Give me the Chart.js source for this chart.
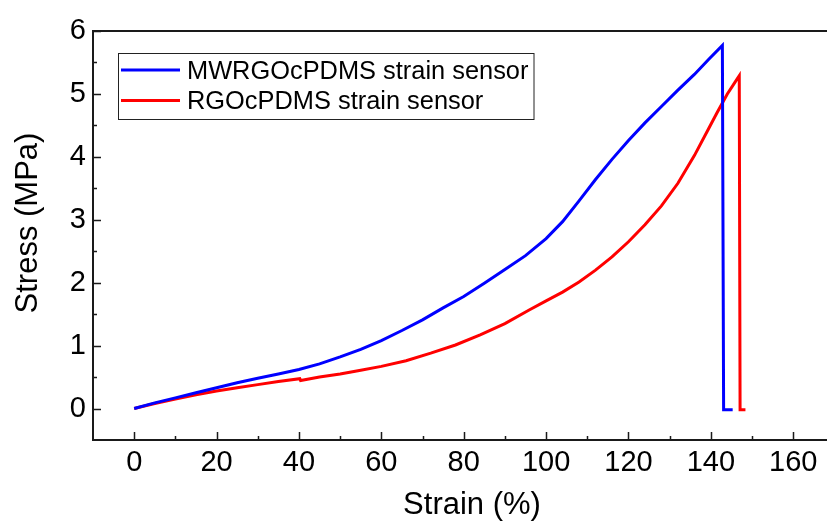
<!DOCTYPE html>
<html>
<head>
<meta charset="utf-8">
<title>Stress vs Strain</title>
<script src="https://cdn.jsdelivr.net/npm/chart.js@4/dist/chart.umd.min.js"></script>
<style>
  body { margin: 0; background: #fff; }
  #stress-strain-chart { display: block; }
</style>
</head>
<body>
<canvas id="stress-strain-chart" width="827" height="525"></canvas>
<script>
var seriesLabels = ['MWRGOcPDMS strain sensor', 'RGOcPDMS strain sensor'];

var strainMW = [0, 5, 10, 15, 20, 25, 30, 35, 40, 45, 50, 55, 60, 65, 70, 75, 80, 85, 90, 95, 100, 104, 108, 112, 116, 120, 124, 128, 132, 136, 139.5, 142.8, 143.1, 145.3];
var stressMW = [0, 0.09, 0.17, 0.25, 0.33, 0.41, 0.48, 0.55, 0.62, 0.71, 0.82, 0.94, 1.08, 1.24, 1.41, 1.6, 1.78, 1.99, 2.21, 2.43, 2.7, 2.97, 3.3, 3.64, 3.96, 4.26, 4.54, 4.8, 5.06, 5.31, 5.55, 5.77, -0.02, -0.02];

var strainRGO = [0, 5, 10, 15, 20, 25, 30, 35, 40.2, 40.4, 45, 50, 55, 60, 66, 72, 78, 84, 90, 96, 100, 104, 108, 112, 116, 120, 124, 128, 132, 136, 139, 141.5, 144, 146, 146.9, 147.1, 148.4];
var stressRGO = [0, 0.08, 0.15, 0.22, 0.28, 0.33, 0.38, 0.43, 0.475, 0.445, 0.5, 0.55, 0.61, 0.67, 0.76, 0.88, 1.01, 1.17, 1.35, 1.57, 1.71, 1.85, 2.01, 2.2, 2.41, 2.65, 2.92, 3.22, 3.58, 4.02, 4.39, 4.7, 5.0, 5.2, 5.29, -0.02, -0.02];

var xTickValues = [0, 20, 40, 60, 80, 100, 120, 140, 160];
var xMinorValues = [10, 30, 50, 70, 90, 110, 130, 150];
var yTickValues = [0, 1, 2, 3, 4, 5, 6];
var yMinorValues = [0.5, 1.5, 2.5, 3.5, 4.5, 5.5];

var FONT = '"Liberation Sans", Arial, sans-serif';
var AXIS_COLOR = '#1a1a1a';

function toPoints(xs, ys) {
  return xs.map(function (x, i) { return { x: x, y: ys[i] }; });
}

// frame top line, inward tick marks, axis titles and the boxed legend
var decorPlugin = {
  id: 'decor',
  afterDraw: function (chart) {
    var ctx = chart.ctx;
    var area = chart.chartArea;
    var xs = chart.scales.x;
    var ys = chart.scales.y;

    ctx.save();
    ctx.strokeStyle = AXIS_COLOR;
    ctx.lineWidth = 2;
    ctx.beginPath();
    ctx.moveTo(area.left, area.top);
    ctx.lineTo(area.right, area.top);
    ctx.stroke();

    ctx.lineWidth = 1.5;
    ctx.beginPath();
    xTickValues.forEach(function (v) {
      var px = Math.round(xs.getPixelForValue(v)) + 0.5;
      ctx.moveTo(px, area.bottom); ctx.lineTo(px, area.bottom - 8);
    });
    xMinorValues.forEach(function (v) {
      var px = Math.round(xs.getPixelForValue(v)) + 0.5;
      ctx.moveTo(px, area.bottom); ctx.lineTo(px, area.bottom - 4);
    });
    yTickValues.forEach(function (v) {
      var py = Math.round(ys.getPixelForValue(v)) + 0.5;
      ctx.moveTo(area.left, py); ctx.lineTo(area.left + 8, py);
    });
    yMinorValues.forEach(function (v) {
      var py = Math.round(ys.getPixelForValue(v)) + 0.5;
      ctx.moveTo(area.left, py); ctx.lineTo(area.left + 4, py);
    });
    ctx.stroke();

    // axis titles
    ctx.fillStyle = '#000';
    ctx.font = '31px ' + FONT;
    ctx.textAlign = 'center';
    ctx.textBaseline = 'alphabetic';
    ctx.fillText('Strain (%)', 472, 514);
    ctx.save();
    ctx.translate(37, 223);
    ctx.rotate(-Math.PI / 2);
    ctx.fillText('Stress (MPa)', 0, 0);
    ctx.restore();

    // legend
    ctx.lineWidth = 1;
    ctx.strokeStyle = '#222';
    ctx.strokeRect(118.5, 53.5, 415.5, 66);
    ctx.font = '25.4px ' + FONT;
    ctx.textAlign = 'left';
    var rows = [{ line: 70, base: 78.5 }, { line: 100.5, base: 108.5 }];
    chart.data.datasets.forEach(function (ds, i) {
      ctx.strokeStyle = ds.borderColor;
      ctx.lineWidth = 3;
      ctx.beginPath();
      ctx.moveTo(121, rows[i].line);
      ctx.lineTo(180, rows[i].line);
      ctx.stroke();
      ctx.fillStyle = '#000';
      ctx.fillText(ds.label, 187, rows[i].base);
    });
    ctx.restore();
  }
};

var chartContext = document.getElementById('stress-strain-chart');

var stressStrainChart = new Chart(chartContext, {
  type: 'line',
  data: {
    datasets: [
      {
        label: seriesLabels[0],
        data: toPoints(strainMW, stressMW),
        borderColor: '#0000ff',
        borderWidth: 3,
        pointRadius: 0,
        tension: 0,
        fill: false
      },
      {
        label: seriesLabels[1],
        data: toPoints(strainRGO, stressRGO),
        borderColor: '#ff0000',
        borderWidth: 3,
        pointRadius: 0,
        tension: 0,
        fill: false
      }
    ]
  },
  options: {
    responsive: false,
    animation: false,
    layout: { padding: { top: 31, left: 0, right: 0, bottom: 0 } },
    plugins: {
      legend: { display: false },
      tooltip: { enabled: false }
    },
    scales: {
      x: {
        type: 'linear',
        min: -10,
        max: 168.2,
        grid: { display: false, drawTicks: false },
        border: { display: true, color: AXIS_COLOR, width: 2 },
        ticks: {
          color: '#000',
          font: { family: FONT, size: 29 },
          padding: 6,
          maxRotation: 0
        },
        afterBuildTicks: function (scale) {
          scale.ticks = xTickValues.map(function (v) { return { value: v }; });
        },
        afterFit: function (scale) { scale.height = 85; }
      },
      y: {
        type: 'linear',
        min: -0.5,
        max: 6,
        grid: { display: false, drawTicks: false },
        border: { display: true, color: AXIS_COLOR, width: 2 },
        ticks: {
          color: '#000',
          font: { family: FONT, size: 29 },
          padding: 7
        },
        afterBuildTicks: function (scale) {
          scale.ticks = yTickValues.map(function (v) { return { value: v }; });
        },
        afterFit: function (scale) { scale.width = 93; }
      }
    }
  },
  plugins: [decorPlugin]
});
</script>
</body>
</html>
